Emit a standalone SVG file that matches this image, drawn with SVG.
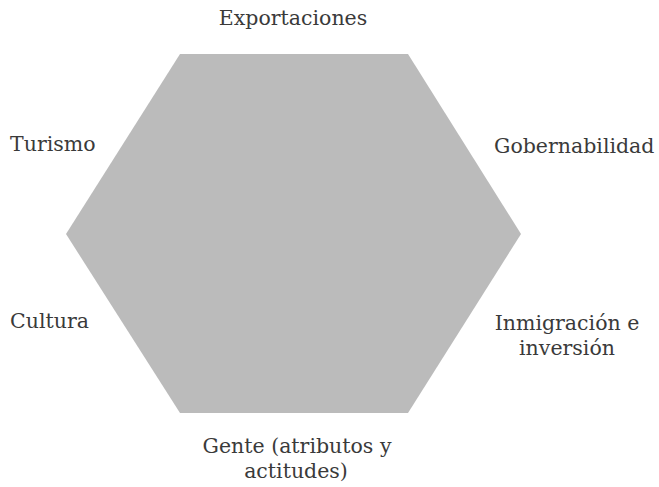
<svg xmlns="http://www.w3.org/2000/svg" width="659" height="487" viewBox="0 0 659 487">
<style>
.lbl{font-family:"DejaVu Serif","Liberation Serif",serif;font-size:20.5px;fill:#3a3a3a}
.hex{fill:#bbbbbb}
</style>
<rect width="659" height="487" fill="#ffffff"/>
<g id="hexagon"><polygon class="hex" points="180,54 408,54 521,234 408,413 180,413 66,234"/></g>
<g id="connectors"></g>
<g id="exportaciones"><text class="lbl" x="293" y="25" text-anchor="middle">Exportaciones</text></g>
<g id="turismo"><text class="lbl" x="10" y="151">Turismo</text></g>
<g id="gobernabilidad"><text class="lbl" x="494" y="153">Gobernabilidad</text></g>
<g id="cultura"><text class="lbl" x="10" y="328">Cultura</text></g>
<g id="inmigracion"><text class="lbl" x="567" y="330" text-anchor="middle">Inmigración e</text><text class="lbl" x="567" y="355" text-anchor="middle">inversión</text></g>
<g id="gente"><text class="lbl" x="297" y="453" text-anchor="middle">Gente (atributos y</text><text class="lbl" x="296" y="478" text-anchor="middle">actitudes)</text></g>
</svg>
